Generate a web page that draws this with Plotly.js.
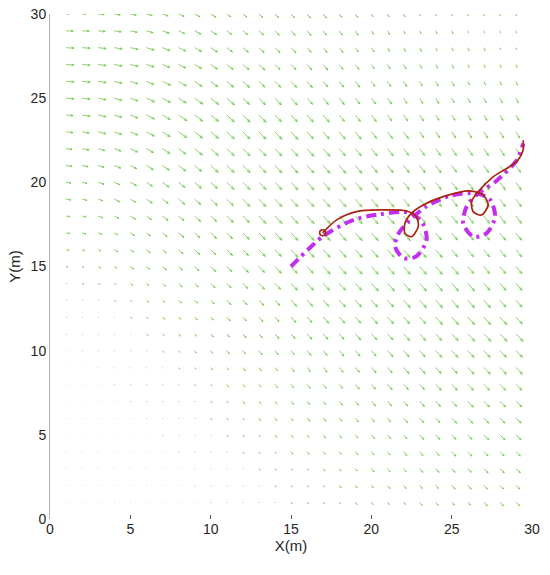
<!DOCTYPE html>
<html>
<head>
<meta charset="utf-8">
<script src="https://cdn.plot.ly/plotly-3.0.1.min.js"></script>
<style>
html, body { margin: 0; padding: 0; background: #fff; }
#plot { width: 550px; height: 575px; }
</style>
</head>
<body>
<div id="plot"></div>
<script>
// current field grid
const fieldX = [1,2,3,4,5,6,7,8,9,10,11,12,13,14,15,16,17,18,19,20,21,22,23,24,25,26,27,28,29]
const fieldY = [1,2,3,4,5,6,7,8,9,10,11,12,13,14,15,16,17,18,19,20,21,22,23,24,25,26,27,28,29,30]

// arrow length (1/16 m), one row per y, y = 1 first
const speed = [
  [0,0,0,0,0,0,0,0,0,1,1,1,1,1,2,2,2,2,3,3,3,3,4,4,4,4,5,5,5],
  [0,0,0,0,0,0,0,0,1,1,1,1,1,2,2,2,2,3,3,3,4,4,4,4,5,5,5,5,5],
  [0,0,0,0,0,0,0,0,1,1,1,1,2,2,2,2,3,3,3,4,4,4,5,5,5,5,6,6,6],
  [0,0,0,0,0,0,0,1,1,1,1,2,2,2,3,3,3,3,4,4,4,5,5,5,6,6,6,6,6],
  [0,0,0,0,0,0,1,1,1,1,2,2,2,3,3,3,4,4,4,5,5,5,6,6,6,6,7,7,7],
  [0,0,0,0,0,1,1,1,1,2,2,2,3,3,3,4,4,4,5,5,5,6,6,6,7,7,7,7,7],
  [0,0,0,0,1,1,1,1,1,2,2,3,3,3,4,4,4,5,5,6,6,6,7,7,7,8,8,8,8],
  [0,0,0,1,1,1,1,1,2,2,3,3,3,4,4,5,5,5,6,6,7,7,7,8,8,8,8,8,8],
  [0,0,1,1,1,1,1,2,2,3,3,4,4,4,5,5,6,6,6,7,7,8,8,8,8,9,9,9,9],
  [0,1,1,1,1,1,2,2,3,3,4,4,5,5,5,6,6,7,7,7,8,8,8,9,9,9,9,9,9],
  [1,1,1,1,1,2,2,3,3,4,4,5,5,6,6,7,7,7,8,8,8,9,9,9,9,10,10,10,10],
  [1,1,1,1,2,2,3,3,4,4,5,5,6,6,7,7,8,8,8,9,9,9,9,10,10,10,10,10,9],
  [1,1,1,2,2,3,3,4,4,5,6,6,7,7,8,8,8,9,9,9,9,10,10,10,10,10,10,9,9],
  [1,2,2,2,3,3,4,5,5,6,6,7,8,8,9,9,9,9,9,10,10,10,10,10,10,10,9,9,9],
  [2,2,3,3,4,4,5,5,6,7,7,8,8,9,9,9,10,10,10,10,10,10,10,10,10,9,9,9,9],
  [3,3,3,4,4,5,5,6,7,7,8,8,9,9,10,10,10,10,10,10,10,10,10,10,9,9,9,9,9],
  [4,4,4,4,5,5,6,7,7,8,8,9,9,10,10,10,10,10,10,10,10,10,10,9,9,9,9,9,9],
  [4,4,5,5,6,6,7,7,8,8,9,9,10,10,10,10,10,10,10,10,10,10,9,9,9,9,9,9,9],
  [5,5,5,6,6,7,7,8,8,9,9,10,10,10,10,10,10,10,10,10,10,9,9,9,9,9,9,9,9],
  [5,5,6,6,7,7,8,8,9,9,10,10,10,10,10,10,10,10,10,10,9,9,9,9,9,9,9,9,9],
  [6,6,6,7,7,8,8,9,9,10,10,10,10,10,10,10,10,10,10,9,9,9,9,9,8,8,8,8,8],
  [6,7,7,7,8,8,9,9,10,10,10,10,10,10,10,10,10,9,9,9,9,8,8,8,8,8,8,8,8],
  [7,7,8,8,8,9,9,10,10,10,10,10,10,10,10,9,9,9,9,8,8,8,7,7,7,7,7,7,7],
  [7,8,8,8,8,9,9,10,10,10,10,10,10,9,9,9,9,8,8,8,7,7,7,6,6,6,6,6,6],
  [8,8,8,8,8,9,9,9,10,10,10,9,9,9,9,8,8,8,7,7,7,6,6,6,5,5,5,5,5],
  [8,8,8,8,8,8,9,9,9,9,9,9,8,8,8,8,7,7,7,6,6,6,5,5,5,4,4,4,4],
  [8,8,8,8,8,8,8,8,8,8,8,8,8,7,7,7,7,6,6,5,5,5,4,4,4,3,3,3,3],
  [8,8,8,8,8,8,8,8,8,8,7,7,7,7,7,6,6,6,5,5,4,4,4,3,3,3,3,2,2],
  [7,7,7,7,7,7,7,7,7,7,6,6,6,6,6,6,5,5,5,4,4,3,3,3,3,2,2,2,2],
  [3,4,6,6,6,6,6,6,6,6,5,5,5,5,5,5,5,4,4,3,3,3,2,2,2,2,2,2,2]
]

// arrow direction in degrees (negative = pointing down), y = 1 first
const heading = [
  [-55,-56,-57,-57,-57,-57,-57,-57,-56,-56,-55,-55,-54,-54,-53,-52,-52,-51,-50,-50,-49,-48,-48,-47,-46,-46,-45,-44,-43],
  [-54,-55,-56,-56,-57,-57,-56,-56,-56,-55,-55,-54,-54,-53,-53,-52,-51,-51,-50,-49,-49,-48,-47,-47,-46,-45,-45,-44,-43],
  [-53,-54,-55,-56,-56,-56,-56,-55,-55,-55,-54,-54,-53,-53,-52,-52,-51,-50,-50,-49,-48,-48,-47,-46,-46,-45,-45,-44,-43],
  [-52,-53,-54,-55,-55,-55,-55,-55,-54,-54,-54,-53,-53,-52,-52,-51,-51,-50,-49,-49,-48,-47,-47,-46,-46,-45,-44,-44,-43],
  [-50,-52,-53,-54,-54,-54,-54,-54,-54,-53,-53,-53,-52,-52,-51,-51,-50,-50,-49,-48,-48,-47,-47,-46,-45,-45,-44,-44,-43],
  [-48,-50,-52,-53,-53,-53,-53,-53,-53,-53,-52,-52,-52,-51,-51,-50,-50,-49,-49,-48,-48,-47,-46,-46,-45,-45,-44,-44,-43],
  [-46,-48,-50,-51,-52,-52,-52,-52,-52,-52,-52,-51,-51,-51,-50,-50,-49,-49,-48,-48,-47,-47,-46,-46,-45,-45,-44,-44,-43],
  [-43,-45,-47,-49,-50,-51,-51,-51,-51,-51,-51,-51,-50,-50,-50,-49,-49,-48,-48,-47,-47,-46,-46,-45,-45,-44,-44,-44,-43],
  [-40,-42,-45,-47,-48,-49,-50,-50,-50,-50,-50,-50,-50,-49,-49,-49,-48,-48,-47,-47,-47,-46,-46,-45,-45,-45,-44,-44,-44],
  [-36,-39,-42,-45,-46,-47,-48,-49,-49,-49,-49,-49,-49,-49,-48,-48,-48,-47,-47,-47,-46,-46,-46,-45,-45,-45,-45,-44,-44],
  [-32,-36,-40,-42,-44,-46,-47,-47,-48,-48,-48,-48,-48,-48,-48,-47,-47,-47,-47,-46,-46,-46,-46,-46,-45,-45,-45,-45,-45],
  [-28,-33,-37,-40,-42,-44,-45,-46,-46,-47,-47,-47,-47,-47,-47,-47,-47,-46,-46,-46,-46,-46,-46,-46,-46,-46,-46,-46,-46],
  [-20,-27,-33,-37,-40,-42,-43,-44,-45,-45,-45,-45,-45,-46,-46,-46,-46,-46,-46,-46,-46,-46,-46,-46,-47,-47,-47,-47,-47],
  [-16,-23,-30,-35,-38,-40,-42,-43,-44,-44,-45,-45,-45,-45,-46,-46,-46,-46,-46,-46,-46,-47,-47,-47,-47,-47,-48,-48,-48],
  [-14,-20,-27,-32,-36,-38,-40,-42,-43,-44,-44,-45,-45,-45,-46,-46,-46,-46,-46,-47,-47,-47,-47,-48,-48,-48,-49,-49,-49],
  [-12,-18,-25,-30,-34,-37,-39,-41,-42,-43,-44,-45,-45,-45,-46,-46,-46,-46,-47,-47,-47,-48,-48,-48,-49,-49,-50,-50,-50],
  [-10,-16,-22,-28,-32,-36,-38,-40,-42,-43,-44,-44,-45,-45,-46,-46,-46,-47,-47,-47,-48,-48,-49,-49,-50,-50,-50,-51,-51],
  [-9,-14,-20,-26,-31,-34,-37,-39,-41,-42,-43,-44,-45,-45,-46,-46,-46,-47,-47,-48,-48,-49,-49,-50,-50,-51,-51,-52,-52],
  [-8,-13,-18,-24,-29,-33,-36,-38,-40,-42,-43,-44,-45,-45,-46,-46,-47,-47,-48,-48,-49,-49,-50,-50,-51,-51,-52,-52,-53],
  [-8,-12,-17,-22,-27,-31,-35,-37,-40,-41,-43,-44,-44,-45,-46,-46,-47,-47,-48,-48,-49,-50,-50,-51,-51,-52,-53,-53,-54],
  [-7,-11,-16,-21,-25,-30,-33,-36,-39,-41,-42,-43,-44,-45,-46,-46,-47,-48,-48,-49,-50,-50,-51,-52,-52,-53,-54,-55,-55],
  [-6,-10,-15,-19,-24,-28,-32,-35,-38,-40,-42,-43,-44,-45,-46,-47,-47,-48,-49,-50,-50,-51,-52,-53,-54,-54,-55,-56,-57],
  [-6,-9,-13,-18,-22,-27,-31,-34,-37,-39,-41,-43,-44,-45,-46,-47,-48,-49,-50,-50,-51,-52,-53,-54,-55,-56,-57,-57,-58],
  [-5,-8,-12,-16,-21,-25,-29,-33,-36,-38,-41,-43,-44,-45,-46,-47,-48,-49,-50,-51,-52,-53,-54,-55,-56,-57,-58,-59,-60],
  [-5,-7,-11,-15,-19,-23,-27,-31,-34,-37,-40,-42,-44,-45,-46,-47,-49,-50,-51,-52,-53,-55,-56,-57,-58,-59,-60,-61,-62],
  [-4,-6,-9,-13,-17,-21,-25,-29,-33,-36,-39,-41,-43,-45,-46,-48,-49,-51,-52,-53,-55,-56,-58,-59,-60,-61,-62,-64,-65],
  [-3,-4,-7,-10,-13,-17,-21,-25,-29,-33,-36,-38,-41,-43,-45,-47,-49,-51,-52,-54,-56,-58,-59,-61,-62,-63,-64,-66,-68],
  [-3,-4,-6,-9,-12,-16,-20,-24,-28,-32,-35,-38,-41,-43,-45,-47,-49,-51,-53,-55,-57,-59,-61,-63,-64,-65,-66,-68,-70],
  [-2,-3,-5,-8,-11,-15,-19,-23,-27,-31,-34,-37,-40,-43,-45,-48,-50,-52,-54,-56,-58,-60,-62,-64,-66,-67,-68,-70,-72],
  [-2,-3,-5,-8,-10,-14,-18,-22,-26,-30,-33,-36,-39,-42,-45,-48,-50,-52,-54,-56,-58,-60,-62,-64,-66,-68,-70,-72,-74]
]

// planned path (dash-dot)
const planX = [15.0,17.0,18.9,20.5,22.4,23.2,23.44,22.8,22.0,21.47,21.7,22.4,23.44,24.9,26.55,27.4,27.7,27.17,26.34,25.72,25.93,26.55,27.8,29.04,29.45]
const planY = [15.0,16.8,17.77,18.1,18.2,17.56,16.58,15.6,15.5,16.2,16.97,17.77,18.57,19.2,19.35,18.96,17.96,16.97,16.77,17.56,18.56,19.25,20.1,21.3,22.3]

// tracked path (solid)
const trackX = [16.97,17.84,19.08,20.5,22.2,22.8,22.92,22.5,22.09,22.09,22.5,23.23,24.47,26.13,26.96,27.27,26.86,26.34,26.24,26.65,27.6,29.04,29.45,29.45]
const trackY = [17.0,17.77,18.26,18.36,18.3,17.96,17.37,16.77,16.97,17.56,18.17,18.66,19.15,19.49,19.25,18.66,18.06,18.26,18.86,19.45,20.34,21.23,21.93,22.5]

// build quiver segments (shaft + small head) as one line trace
let qx = []
let qy = []
for (let j = 0; j < fieldY.length; j++) {
    for (let i = 0; i < fieldX.length; i++) {
        let len = Math.max(speed[j][i], 0.6) / 16
        let a = heading[j][i] * Math.PI / 180
        let x0 = fieldX[i], y0 = fieldY[j]
        let x1 = x0 + len * Math.cos(a)
        let y1 = y0 + len * Math.sin(a)
        qx.push(x0, x1, null)
        qy.push(y0, y1, null)
        if (speed[j][i] >= 2) {
            let h = len * 0.33
            for (let s of [-1, 1]) {
                let b = a + Math.PI + s * 0.35
                qx.push(x1, x1 + h * Math.cos(b), null)
                qy.push(y1, y1 + h * Math.sin(b), null)
            }
        }
    }
}

let field = {
    x: qx, y: qy,
    mode: 'lines',
    line: {color: 'rgb(110,200,70)', width: 0.8},
    hoverinfo: 'skip',
    showlegend: false
}

let plan = {
    x: planX, y: planY,
    mode: 'lines',
    line: {color: 'rgb(195,45,240)', width: 4, dash: '10px,5px,3px,5px', shape: 'spline', smoothing: 0.8},
    showlegend: false
}

let track = {
    x: trackX, y: trackY,
    mode: 'lines',
    line: {color: 'rgb(170,35,15)', width: 1.7, shape: 'spline', smoothing: 0.8},
    showlegend: false
}

let start = {
    x: [trackX[0]], y: [trackY[0]],
    mode: 'markers',
    marker: {symbol: 'circle-open', size: 6, color: 'rgb(170,35,15)', line: {width: 1.5}},
    showlegend: false
}

let axisFont = {family: 'Liberation Sans, Arial, sans-serif', size: 14, color: '#262626'}

let layout = {
    width: 550,
    height: 575,
    margin: {l: 50, r: 18, t: 14, b: 56},
    paper_bgcolor: '#fff',
    plot_bgcolor: '#fff',
    font: axisFont,
    xaxis: {
        range: [0, 30],
        tickvals: [0, 5, 10, 15, 20, 25, 30],
        ticks: 'inside',
        ticklen: 4,
        tickcolor: '#555',
        showgrid: false,
        zeroline: false,
        showline: false,
        tickfont: axisFont,
        title: {text: 'X(m)', font: {family: 'Liberation Sans, Arial, sans-serif', size: 15, color: '#262626'}, standoff: 2}
    },
    yaxis: {
        range: [0, 30],
        tickvals: [0, 5, 10, 15, 20, 25, 30],
        ticks: '',
        showgrid: false,
        zeroline: false,
        showline: true,
        linecolor: '#b0b0b0',
        linewidth: 1,
        tickfont: axisFont,
        title: {text: 'Y(m)', font: {family: 'Liberation Sans, Arial, sans-serif', size: 15, color: '#262626'}, standoff: 6}
    }
}

Plotly.newPlot('plot', [field, plan, track, start], layout, {displayModeBar: false, staticPlot: true})
</script>
</body>
</html>
